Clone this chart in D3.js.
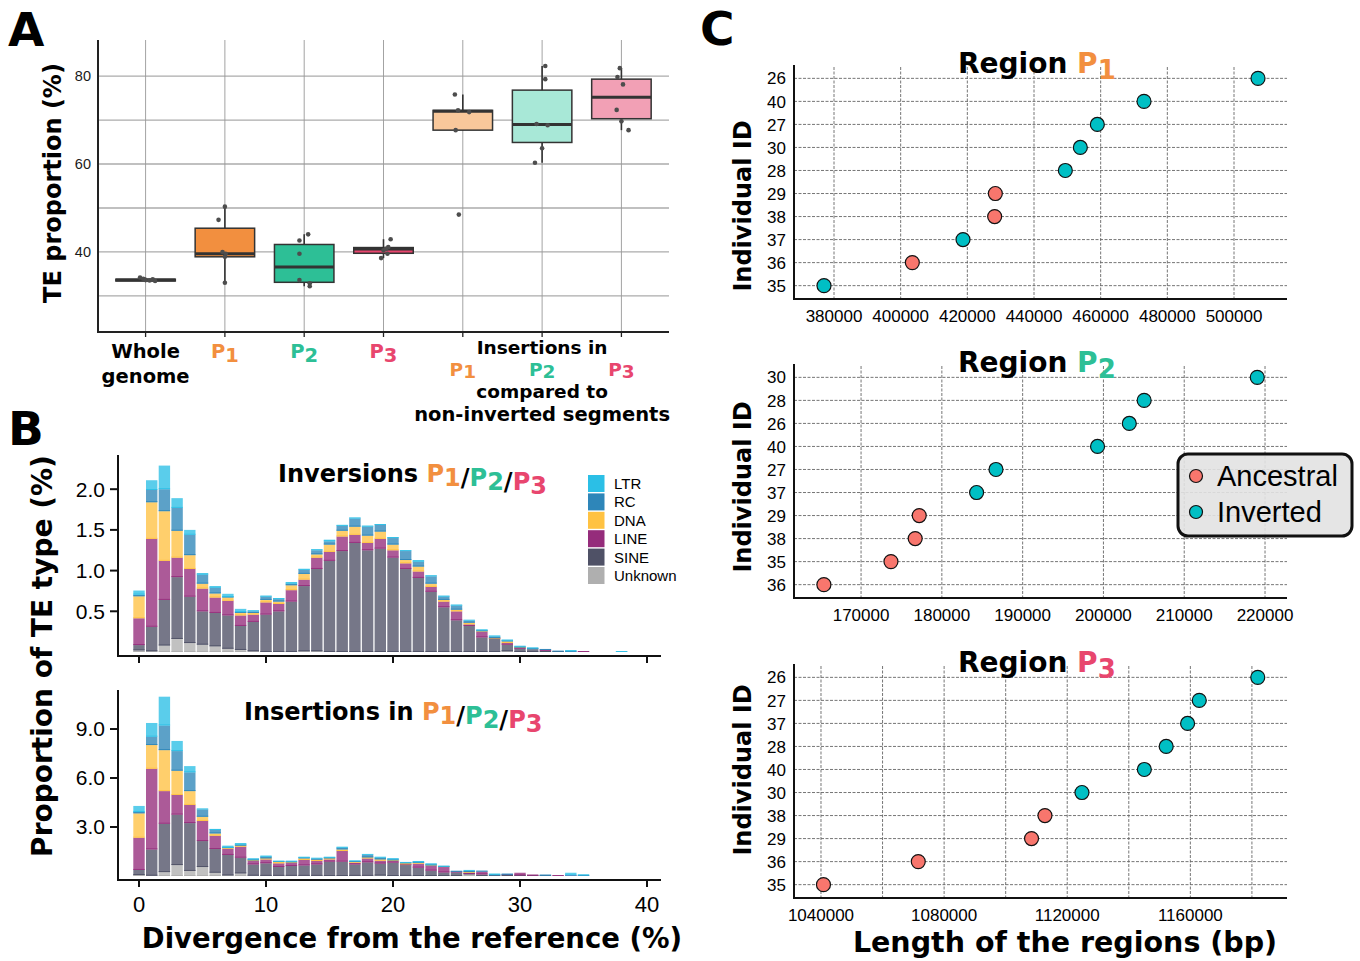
<!DOCTYPE html>
<html>
<head>
<meta charset="UTF-8">
<script src="https://d3js.org/d3.v7.min.js"></script>
<style>
    body { margin: 0; background: #fff; }
    svg { display: block; font-family: "Liberation Sans", Arial, sans-serif; }
    .bold { font-family: "DejaVu Sans", sans-serif; font-weight: bold; }
</style>
<title>TE proportion</title>
</head>
<body>
<svg width="1360" height="961"></svg>
<script>
// ---------- data: panel A (box plots) ----------
var boxCats = ["Whole genome", "P1", "P2", "P3", "Ins P1", "Ins P2", "Ins P3"];
var boxLow  = [33.3, 33.0, 32.2, 38.6, 67.7, 60.3, 67.7];
var boxQ1   = [33.4, 38.9, 33.1, 39.7, 67.7, 64.9, 70.3];
var boxMed  = [33.6, 39.6, 36.6, 40.7, 72.0, 69.0, 75.2];
var boxQ3   = [33.8, 45.4, 41.7, 41.0, 72.2, 76.8, 79.3];
var boxHigh = [34.2, 50.3, 44.0, 42.9, 75.8, 82.3, 81.8];
var boxPoints = [
    [34.2, 33.9, 33.6, 33.5, 33.8, 33.4],
    [50.3, 47.3, 40.0, 39.6, 38.9, 33.0],
    [44.0, 42.6, 39.6, 33.6, 32.9, 32.2],
    [42.9, 41.1, 40.7, 40.4, 39.6, 38.6],
    [75.8, 72.2, 71.8, 67.7, 48.5],
    [82.3, 79.3, 69.1, 68.8, 63.6, 60.3],
    [81.8, 79.8, 78.1, 72.3, 69.7, 67.7]
];
var boxJitter = [
    [-0.07, -0.03, 0.0, 0.05, 0.09, 0.12],
    [0.0, -0.08, -0.03, 0.01, 0.0, 0.0],
    [0.05, -0.06, -0.06, -0.06, 0.07, 0.07],
    [0.09, 0.06, 0.03, 0.0, 0.05, -0.03],
    [-0.1, -0.06, 0.08, -0.09, -0.05],
    [0.04, 0.04, -0.07, 0.07, 0.0, -0.09],
    [-0.02, -0.05, 0.02, -0.06, 0.0, 0.09]
];

// ---------- data: panel B (stacked histograms) ----------
var teTypes = ["Unknown", "SINE", "LINE", "DNA", "RC", "LTR"]; // bottom -> top
var invUnknown = [0.02,0.01,0.08,0.16,0.11,0.09,0.07,0.04,0.025,0.01,0,0,0,0.01,0.01,0,0,0,0,0,0,0,0,0,0,0,0,0,0,0.01,0,0,0,0,0,0,0,0,0];
var invSINE = [0.065,0.30,0.56,0.76,0.57,0.41,0.41,0.41,0.295,0.36,0.46,0.50,0.62,0.80,1.01,1.12,1.24,1.34,1.25,1.27,1.16,1.02,0.91,0.74,0.55,0.39,0.32,0.18,0.16,0.08,0.04,0.035,0.015,0.005,0,0,0,0,0];
var invLINE = [0.33,1.08,0.48,0.24,0.34,0.28,0.19,0.18,0.13,0.09,0.15,0.09,0.14,0.08,0.14,0.11,0.18,0.10,0.09,0.12,0.09,0.07,0.08,0.06,0.07,0.11,0.02,0.07,0.005,0.02,0.01,0,0.01,0,0,0.01,0,0,0];
var invDNA = [0.27,0.45,0.61,0.33,0.17,0.06,0.05,0.04,0.03,0.02,0.03,0.03,0.06,0.07,0.04,0.09,0.07,0.10,0.09,0.09,0.07,0.04,0.06,0.04,0.02,0.02,0.02,0.005,0.005,0.02,0.005,0,0,0,0,0,0,0,0];
var invRC = [0.02,0.15,0.27,0.28,0.25,0.11,0.07,0.005,0.01,0.02,0.04,0.03,0.02,0.05,0.05,0.04,0.06,0.10,0.11,0.08,0.08,0.11,0.06,0.09,0.04,0.05,0.025,0.01,0.02,0.01,0.01,0.01,0.01,0.005,0.01,0,0,0,0];
var invLTR = [0.05,0.12,0.29,0.12,0.06,0.02,0.02,0.04,0.04,0.01,0.01,0.01,0.02,0.01,0.01,0.02,0.01,0.01,0.01,0.01,0.01,0.005,0.02,0.01,0.01,0.01,0.005,0.01,0.01,0.01,0.005,0.005,0,0,0.01,0,0,0,0.01];

var insUnknown = [0.06,0.02,0.24,0.67,0.31,0.55,0.2,0.04,0.16,0.02,0.01,0.01,0.01,0.01,0.01,0,0,0.01,0.01,0.03,0,0.01,0,0,0,0,0.1,0,0,0,0,0,0,0,0,0];
var insSINE = [0.31,1.61,2.96,3.09,2.93,1.59,1.45,1.25,0.96,0.69,0.77,0.54,0.60,0.64,0.70,0.88,0.88,0.70,0.83,0.73,0.82,0.66,0.51,0.33,0.22,0.22,0.02,0.10,0.04,0.06,0.04,0.02,0.02,0,0,0];
var insLINE = [1.98,4.94,2.0,1.20,1.11,1.23,0.82,0.38,0.68,0.21,0.24,0.23,0.19,0.33,0.21,0.14,0.65,0.11,0.24,0.18,0.10,0.05,0.25,0.30,0.33,0.04,0.08,0.17,0,0.02,0.16,0.06,0,0.03,0.03,0];
var insDNA = [1.49,1.45,2.51,1.49,0.85,0.26,0.14,0.04,0.06,0.04,0.06,0.08,0.04,0.10,0.08,0.06,0.10,0.04,0.06,0.08,0.04,0.06,0.04,0.02,0.01,0,0.04,0,0,0,0,0,0,0,0,0];
var insRC = [0.08,0.51,1.51,1.20,1.15,0.45,0.21,0.02,0.06,0.06,0.10,0.02,0.04,0.04,0.06,0.04,0.10,0.04,0.15,0.10,0.06,0.02,0.04,0.06,0.01,0.05,0.07,0.04,0.04,0.06,0,0,0.06,0,0,0.04];
var insLTR = [0.37,0.84,1.76,0.62,0.38,0.02,0.06,0.13,0.1,0.04,0.06,0.04,0.02,0.04,0.02,0.04,0.05,0.02,0.02,0.04,0.06,0.02,0.08,0.04,0.04,0,0.02,0,0.06,0,0,0,0,0,0.17,0.04];

var invTicks = [0.5, 1.0, 1.5, 2.0];
var insTicks = [3.0, 6.0, 9.0];
var divTicks = [0, 10, 20, 30, 40];

// ---------- data: panel C (region lengths) ----------
var idsP1 = ["26","40","27","30","28","29","38","37","36","35"];
var lenP1 = [507200,473000,459000,453900,449400,428400,428200,418700,403500,377000];
var stP1  = ["Inverted","Inverted","Inverted","Inverted","Inverted","Ancestral","Ancestral","Inverted","Ancestral","Inverted"];
var idsP2 = ["30","28","26","40","27","37","29","38","35","36"];
var lenP2 = [219040,205040,203200,199270,186700,184300,177200,176700,173700,165400];
var stP2  = ["Inverted","Inverted","Inverted","Inverted","Inverted","Inverted","Ancestral","Ancestral","Ancestral","Ancestral"];
var idsP3 = ["26","27","37","28","40","30","38","29","36","35"];
var lenP3 = [1181900,1162900,1159100,1152150,1145050,1124780,1112760,1108400,1071600,1040800];
var stP3  = ["Inverted","Inverted","Inverted","Inverted","Inverted","Inverted","Ancestral","Ancestral","Ancestral","Ancestral"];

// colours
var pCol = {"1": "#F28F3F", "2": "#2DBF96", "3": "#E8466E"};
var boxFill = ["#9a9a9a", "#F28F3F", "#2DBF96", "#E8466E", "#F9C89B", "#A8E8D7", "#F2A0B5"];
var teCol = {LTR: "#2BBFE6", RC: "#2E86B9", DNA: "#FFC242", LINE: "#952C7B", SINE: "#4F5166", Unknown: "#AFAFAF"};
var stCol = {Ancestral: "#F8766D", Inverted: "#00BFC4"};

var svg = d3.select("svg");

// panel letters
[["A", 8, 46], ["B", 8, 445], ["C", 700, 45]].forEach(function(l) {
    svg.append("text").attr("class", "bold").attr("x", l[1]).attr("y", l[2])
        .attr("font-size", "47px").text(l[0]);
});

// helper: "P" + lowered digit
function pLabel(sel, n, drop, subSize) {
    sel.append("tspan").attr("fill", pCol[n]).text("P");
    var s = sel.append("tspan").attr("fill", pCol[n]).attr("dy", drop).text(n);
    if (subSize) s.attr("font-size", subSize);
    sel.append("tspan").attr("dy", -drop).text("");
}

// ================= Panel A =================
var aLeft = 98, aRight = 669, aTop = 40, aBottom = 332;
var xA = d3.scalePoint().domain(boxCats).range([aLeft, aRight]).padding(0.6);
var yA = d3.scaleLinear().domain([21.8, 88.2]).range([aBottom, aTop]);
var stepA = xA.step(), bwA = stepA * 0.75;
var gA = svg.append("g");

gA.selectAll(".hg").data(d3.range(30, 81, 10)).enter().append("line")
    .attr("x1", aLeft).attr("x2", aRight).attr("y1", yA).attr("y2", yA)
    .attr("stroke", "#ababab").attr("stroke-width", 1.3);
gA.selectAll(".vg").data(boxCats).enter().append("line")
    .attr("x1", xA).attr("x2", xA).attr("y1", aTop).attr("y2", aBottom)
    .attr("stroke", "#999").attr("stroke-width", 0.9);

gA.selectAll(".yt").data([40, 60, 80]).enter().append("text")
    .attr("x", aLeft - 7).attr("y", yA).attr("dy", "0.35em")
    .attr("text-anchor", "end").attr("font-size", "14.5px").attr("fill", "#1a1a1a")
    .text(function(d) { return d; });

boxCats.forEach(function(c, i) {
    var cx = xA(c);
    gA.append("line").attr("x1", cx).attr("x2", cx)
        .attr("y1", yA(boxHigh[i])).attr("y2", yA(boxLow[i]))
        .attr("stroke", "#333").attr("stroke-width", 1.6);
    gA.append("rect").attr("x", cx - bwA / 2).attr("width", bwA)
        .attr("y", yA(boxQ3[i])).attr("height", yA(boxQ1[i]) - yA(boxQ3[i]))
        .attr("fill", boxFill[i]).attr("stroke", "#333").attr("stroke-width", 1.5);
    gA.append("line").attr("x1", cx - bwA / 2).attr("x2", cx + bwA / 2)
        .attr("y1", yA(boxMed[i])).attr("y2", yA(boxMed[i]))
        .attr("stroke", "#333").attr("stroke-width", 3);
    gA.selectAll(".pt" + i).data(boxPoints[i]).enter().append("circle")
        .attr("cx", function(d, j) { return cx + boxJitter[i][j] * stepA; })
        .attr("cy", function(d) { return yA(d); })
        .attr("r", 2.3).attr("fill", "#4d4d4d");
});

gA.append("line").attr("x1", aLeft).attr("x2", aLeft).attr("y1", aTop).attr("y2", aBottom + 1)
    .attr("stroke", "#222").attr("stroke-width", 2);
gA.append("line").attr("x1", aLeft - 1).attr("x2", aRight).attr("y1", aBottom).attr("y2", aBottom)
    .attr("stroke", "#222").attr("stroke-width", 2);
gA.selectAll(".xt").data(boxCats).enter().append("line")
    .attr("x1", xA).attr("x2", xA).attr("y1", aBottom).attr("y2", aBottom + 5)
    .attr("stroke", "#222").attr("stroke-width", 1.3);

gA.append("text").attr("class", "bold").attr("font-size", "24px")
    .attr("transform", "translate(53,183) rotate(-90)")
    .attr("text-anchor", "middle").attr("dy", "0.35em").text("TE proportion (%)");

var lab = gA.append("g").attr("class", "bold").attr("font-size", "19.5px").attr("text-anchor", "middle");
lab.append("text").attr("x", xA("Whole genome")).attr("y", 358).text("Whole");
lab.append("text").attr("x", xA("Whole genome")).attr("y", 383).text("genome");
["1", "2", "3"].forEach(function(n) {
    pLabel(lab.append("text").attr("x", xA("P" + n)).attr("y", 358), n, 4);
});
var ins = lab.append("g").attr("font-size", "18.5px");
["1", "2", "3"].forEach(function(n) {
    pLabel(ins.append("text").attr("x", xA("Ins P" + n)).attr("y", 376), n, 2);
});
ins.append("text").attr("x", xA("Ins P2")).attr("y", 354).text("Insertions in");
ins.append("text").attr("x", xA("Ins P2")).attr("y", 398).text("compared to");
ins.append("text").attr("x", xA("Ins P2")).attr("y", 421).attr("font-size", "19.5px")
    .text("non-inverted segments");

// ================= Panel B =================
var bLeft = 118, bRight = 661;
var xB = d3.scaleLinear().domain([0, 40]).range([139, 647]);
var barW = xB(1) - xB(0) - 1.3;

function rowsOf(series) {
    return series[0].map(function(v, i) {
        var r = {bin: i};
        teTypes.forEach(function(t, k) { r[t] = series[k][i]; });
        return r;
    });
}

function drawHist(series, yS, axisTop, axisY, ticks, showLabels, titleText, titleX, titleY) {
    var g = svg.append("g");
    var stacked = d3.stack().keys(teTypes)(rowsOf(series));
    stacked.forEach(function(layer) {
        var col = teCol[layer.key];
        var segs = layer.filter(function(d) { return d[1] - d[0] > 0; });
        g.selectAll(".s" + layer.key).data(segs).enter().append("rect")
            .attr("x", function(d) { return xB(d.data.bin) - barW / 2; })
            .attr("width", barW)
            .attr("y", function(d) { return yS(d[1]); })
            .attr("height", function(d) { return yS(d[0]) - yS(d[1]); })
            .attr("fill", col).attr("fill-opacity", 0.78);
        g.selectAll(".e" + layer.key).data(segs).enter().append("line")
            .attr("x1", function(d) { return xB(d.data.bin) - barW / 2; })
            .attr("x2", function(d) { return xB(d.data.bin) + barW / 2; })
            .attr("y1", function(d) { return yS(d[0]) - 0.5; })
            .attr("y2", function(d) { return yS(d[0]) - 0.5; })
            .attr("stroke", col).attr("stroke-width", 1).attr("stroke-opacity", 0.9);
    });
    g.append("line").attr("x1", bLeft).attr("x2", bLeft).attr("y1", axisTop).attr("y2", axisY)
        .attr("stroke", "#111").attr("stroke-width", 2);
    g.append("line").attr("x1", bLeft - 1).attr("x2", bRight).attr("y1", axisY).attr("y2", axisY)
        .attr("stroke", "#111").attr("stroke-width", 2);
    g.selectAll(".xtk").data(divTicks).enter().append("line")
        .attr("x1", xB).attr("x2", xB).attr("y1", axisY).attr("y2", axisY + 7)
        .attr("stroke", "#111").attr("stroke-width", 2);
    g.selectAll(".ytk").data(ticks).enter().append("line")
        .attr("x1", bLeft - 8).attr("x2", bLeft).attr("y1", yS).attr("y2", yS)
        .attr("stroke", "#111").attr("stroke-width", 2);
    g.selectAll(".ytl").data(ticks).enter().append("text")
        .attr("x", bLeft - 13).attr("y", yS).attr("dy", "0.35em")
        .attr("text-anchor", "end").attr("font-size", "21px")
        .text(function(d) { return d.toFixed(1); });
    if (showLabels) {
        g.selectAll(".xtl").data(divTicks).enter().append("text")
            .attr("x", xB).attr("y", axisY + 32).attr("text-anchor", "middle")
            .attr("font-size", "22px").text(function(d) { return d; });
    }
    var t = g.append("text").attr("class", "bold").attr("x", titleX).attr("y", titleY)
        .attr("font-size", "24px").text(titleText);
    pLabel(t, "1", 4);
    t.append("tspan").text("/");
    pLabel(t, "2", 4);
    t.append("tspan").text("/");
    pLabel(t, "3", 4);
}

var yInv = d3.scaleLinear().domain([0, 2.42]).range([652, 455]);
var yIns = d3.scaleLinear().domain([0, 11.39]).range([876, 690]);
drawHist([invUnknown, invSINE, invLINE, invDNA, invRC, invLTR], yInv, 455, 656,
    invTicks, false, "Inversions ", 278, 482);
drawHist([insUnknown, insSINE, insLINE, insDNA, insRC, insLTR], yIns, 690, 880,
    insTicks, true, "Insertions in ", 244, 720);

// legend B
var legB = svg.append("g");
teTypes.slice().reverse().forEach(function(t, i) {
    var y0 = 475 + i * 18.4;
    legB.append("rect").attr("x", 588).attr("y", y0).attr("width", 16.5).attr("height", 17)
        .attr("fill", teCol[t]);
    legB.append("text").attr("x", 614).attr("y", y0 + 14).attr("font-size", "15px").text(t);
});

svg.append("text").attr("class", "bold").attr("font-size", "28px")
    .attr("transform", "translate(42,656) rotate(-90)")
    .attr("text-anchor", "middle").attr("dy", "0.35em").text("Proportion of TE type (%)");
svg.append("text").attr("class", "bold").attr("font-size", "27.5px")
    .attr("x", 412).attr("y", 948).attr("text-anchor", "middle")
    .text("Divergence from the reference (%)");

// ================= Panel C =================
var cLeft = 794, cRight = 1287, cH = 234;
var cPanels = [
    {n: "1", ids: idsP1, len: lenP1, st: stP1, dom: [368000, 515900],
     grid: d3.range(380000, 500001, 20000), labs: d3.range(380000, 500001, 20000), top: 65, ylab: 206},
    {n: "2", ids: idsP2, len: lenP2, st: stP2, dom: [161700, 222720],
     grid: d3.range(170000, 220001, 10000), labs: d3.range(170000, 220001, 10000), top: 364, ylab: 487},
    {n: "3", ids: idsP3, len: lenP3, st: stP3, dom: [1031230, 1191400],
     grid: d3.range(1040000, 1180001, 20000), labs: d3.range(1040000, 1160001, 40000), top: 664, ylab: 770}
];

cPanels.forEach(function(p) {
    var g = svg.append("g");
    var bottom = p.top + cH;
    var x = d3.scaleLinear().domain(p.dom).range([cLeft, cRight]);
    var y = d3.scalePoint().domain(p.ids).range([p.top, bottom]).padding(0.58);

    g.selectAll(".vg").data(p.grid).enter().append("line")
        .attr("x1", x).attr("x2", x).attr("y1", p.top + 2).attr("y2", bottom)
        .attr("stroke", "#666").attr("stroke-width", 0.9).attr("stroke-dasharray", "3,1.5");
    g.selectAll(".hg").data(p.ids).enter().append("line")
        .attr("x1", cLeft).attr("x2", cRight).attr("y1", y).attr("y2", y)
        .attr("stroke", "#666").attr("stroke-width", 0.9).attr("stroke-dasharray", "3,1.5");

    g.append("line").attr("x1", cLeft).attr("x2", cLeft).attr("y1", p.top).attr("y2", bottom + 1)
        .attr("stroke", "#111").attr("stroke-width", 2);
    g.append("line").attr("x1", cLeft - 1).attr("x2", cRight).attr("y1", bottom).attr("y2", bottom)
        .attr("stroke", "#111").attr("stroke-width", 2);

    g.selectAll(".yl").data(p.ids).enter().append("text")
        .attr("x", cLeft - 8).attr("y", y).attr("dy", "0.36em").attr("text-anchor", "end")
        .attr("font-size", "17px").text(function(d) { return d; });
    g.selectAll(".xl").data(p.labs).enter().append("text")
        .attr("x", x).attr("y", bottom + 23).attr("text-anchor", "middle")
        .attr("font-size", "17px").text(function(d) { return d; });

    g.selectAll(".pt").data(p.ids).enter().append("circle")
        .attr("cx", function(d, i) { return x(p.len[i]); })
        .attr("cy", function(d) { return y(d); })
        .attr("r", 7).attr("fill", function(d, i) { return stCol[p.st[i]]; })
        .attr("stroke", "#111").attr("stroke-width", 1.2);

    var t = g.append("text").attr("class", "bold").attr("x", 958).attr("y", p.top + 8)
        .attr("font-size", "28px").text("Region ");
    pLabel(t, p.n, 6, "26px");

    g.append("text").attr("class", "bold").attr("font-size", "24px")
        .attr("transform", "translate(743," + p.ylab + ") rotate(-90)")
        .attr("text-anchor", "middle").attr("dy", "0.35em").text("Individual ID");
});

svg.append("text").attr("class", "bold").attr("font-size", "28.5px")
    .attr("x", 1065).attr("y", 952).attr("text-anchor", "middle")
    .text("Length of the regions (bp)");

// legend C
var legC = svg.append("g");
legC.append("rect").attr("x", 1178).attr("y", 454).attr("width", 174).attr("height", 82)
    .attr("rx", 10).attr("fill", "#e2e2e2").attr("fill-opacity", 0.9)
    .attr("stroke", "#111").attr("stroke-width", 3);
["Ancestral", "Inverted"].forEach(function(s, i) {
    var cy = 476 + i * 36;
    legC.append("circle").attr("cx", 1196).attr("cy", cy).attr("r", 6.5)
        .attr("fill", stCol[s]).attr("stroke", "#111").attr("stroke-width", 1.2);
    legC.append("text").attr("x", 1217).attr("y", cy).attr("dy", "0.36em")
        .attr("font-size", "29px").text(s);
});
</script>
</body>
</html>
